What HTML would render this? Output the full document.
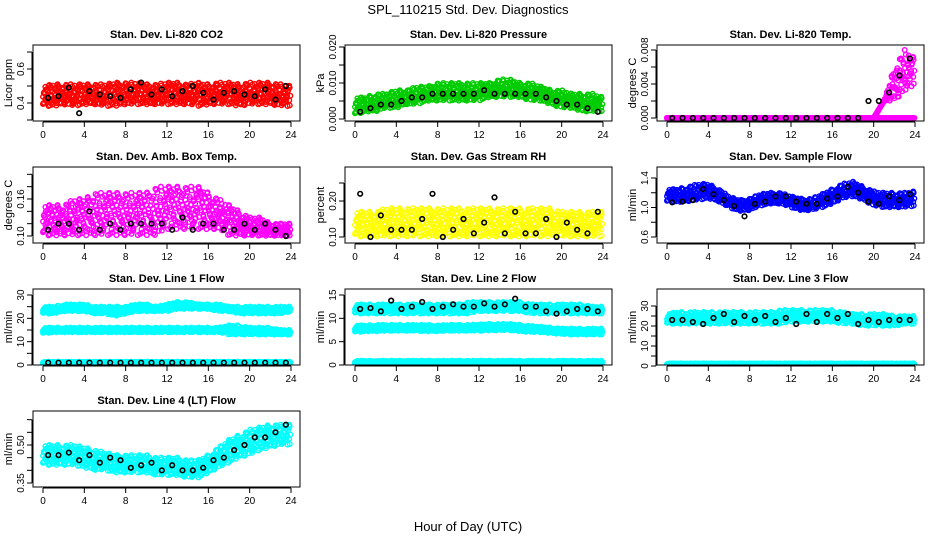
<!DOCTYPE html>
<html><head><meta charset="utf-8">
<style>
html,body{margin:0;padding:0;background:#fff;}
svg{display:block;font-family:"Liberation Sans",sans-serif;}
</style></head>
<body>
<svg id="chart" width="936" height="540" viewBox="0 0 936 540">
<text x="468" y="14" text-anchor="middle" font-size="13">SPL_110215  Std. Dev. Diagnostics</text>
<text x="468" y="531" text-anchor="middle" font-size="13">Hour of Day (UTC)</text>
</svg>
<script>
// ---- data ----
const hours = [0,1,2,3,4,5,6,7,8,9,10,11,12,13,14,15,16,17,18,19,20,21,22,23,24];
const blackHours = [0.5,1.5,2.5,3.5,4.5,5.5,6.5,7.5,8.5,9.5,10.5,11.5,12.5,13.5,14.5,15.5,16.5,17.5,18.5,19.5,20.5,21.5,22.5,23.5];
const titles = ["Stan. Dev. Li-820 CO2","Stan. Dev. Li-820 Pressure","Stan. Dev. Li-820 Temp.","Stan. Dev. Amb. Box Temp.","Stan. Dev. Gas Stream RH","Stan. Dev. Sample Flow","Stan. Dev. Line 1 Flow","Stan. Dev. Line 2 Flow","Stan. Dev. Line 3 Flow","Stan. Dev. Line 4 (LT) Flow"];
const yTitles = ["Licor ppm","kPa","degrees C","degrees C","percent","ml/min","ml/min","ml/min","ml/min","ml/min"];
const yTicks = [[0.3,0.4,0.5,0.6,0.7],[0,0.005,0.01,0.015,0.02],[0,0.002,0.004,0.006,0.008],[0.1,0.12,0.14,0.16,0.18,0.2],[0.1,0.15,0.2,0.25],[0.6,0.8,1.0,1.2,1.4],[0,5,10,15,20,25,30],[0,5,10,15],[0,5,10,15,20,25,30],[0.35,0.4,0.45,0.5,0.55,0.6]];
const yLabels = [["","0.4","","0.6",""],["0.000","","0.010","","0.020"],["0.000","","0.004","","0.008"],["0.10","","","0.16","",""],["0.10","","0.20",""],["0.6","","1.0","","1.4"],["0","","10","","20","","30"],["0","5","10","15"],["0","","10","","20","","30"],["0.35","","","0.50","",""]];
const xTicks = [0,4,8,12,16,20,24];
const colors = ["#ff0000","#00cc00","#ff00ff","#ff00ff","#ffff00","#0000ff","#00ffff","#00ffff","#00ffff","#00ffff"];
// colored clouds: per panel, list of bands [low per hour, high per hour]
const bandsCO2 = [[[.38,.38,.39,.38,.39,.39,.38,.38,.39,.39,.39,.39,.39,.39,.39,.38,.39,.39,.39,.38,.39,.39,.39,.38,.38],[.50,.51,.51,.51,.51,.51,.51,.52,.52,.52,.51,.51,.52,.52,.51,.52,.51,.52,.52,.51,.52,.52,.52,.51,.50]]];
const bandsPres = [[[.001,.002,.002,.003,.003,.004,.004,.005,.005,.005,.005,.005,.005,.006,.006,.006,.006,.005,.005,.004,.003,.003,.002,.002,.002],[.006,.006,.007,.007,.008,.008,.009,.009,.010,.010,.010,.010,.010,.010,.011,.011,.010,.010,.009,.008,.008,.007,.007,.007,.006]]];
const bandsTemp = [[[0,0,0,0,0,0,0,0,0,0,0,0,0,0,0,0,0,0,0,0,0,0,0,0,0],[0,0,0,0,0,0,0,0,0,0,0,0,0,0,0,0,0,0,0,0,0,0,0,0,0]],
  [[0,0,0,0,0,0,0,0,0,0,0,0,0,0,0,0,0,0,0,0,0,.002,.002,.003,.004],[0,0,0,0,0,0,0,0,0,0,0,0,0,0,0,0,0,0,0,0,0,.002,.006,.008,.007]]];
const bandsBox = [[[.10,.10,.10,.10,.10,.10,.10,.10,.10,.10,.10,.10,.11,.11,.11,.11,.11,.11,.10,.10,.10,.10,.10,.10,.10],[.15,.15,.15,.16,.16,.17,.17,.17,.17,.17,.17,.18,.18,.18,.18,.18,.17,.16,.15,.14,.13,.13,.12,.12,.12]]];
const bandsRH = [[[.10,.10,.10,.10,.10,.10,.10,.10,.10,.10,.10,.10,.10,.10,.10,.10,.10,.10,.10,.10,.10,.10,.10,.10,.10],[.17,.17,.17,.18,.18,.18,.18,.18,.18,.18,.18,.18,.18,.18,.18,.18,.18,.18,.18,.18,.17,.17,.17,.17,.17]]];
const bandsFlow = [[[1.07,1.07,1.08,1.10,1.12,1.08,1.00,0.95,0.96,1.02,1.05,1.05,1.00,0.96,0.96,1.00,1.05,1.12,1.15,1.10,1.02,1.00,1.00,1.00,1.02],[1.25,1.25,1.28,1.32,1.32,1.25,1.15,1.10,1.12,1.18,1.20,1.20,1.15,1.12,1.12,1.18,1.25,1.32,1.35,1.28,1.22,1.20,1.20,1.20,1.22]]];
const bandsL1 = [[[22,22,23,23,23,22,22,21,22,23,23,23,23,24,24,24,24,23,23,22,22,22,22,22,23],[25,25,26,26,26,25,25,25,25,26,26,25,26,27,27,26,26,26,25,25,25,25,25,25,25]],
  [[13.5,14,14,14,14,14,14,14,14,14,14,14,14,14,14,14,14,14,13,13,13,13,13,13,13],[16,16,16,16,16,16,16,16,16,16,16,16,16,16,16,16,16,16,17,17,16,16,16,15,15]],
  [[0.8,0.8,0.8,0.8,0.8,0.8,0.8,0.8,0.8,0.8,0.8,0.8,0.8,0.8,0.8,0.8,0.8,0.8,0.8,0.8,0.8,0.8,0.8,0.8,0.8],[1.4,1.4,1.4,1.4,1.4,1.4,1.4,1.4,1.4,1.4,1.4,1.4,1.4,1.4,1.4,1.4,1.4,1.4,1.4,1.4,1.4,1.4,1.4,1.4,1.4]]];
const bandsL2 = [[[11,11,11,11,11,11,11,11,11,11,11,11,11.5,11.5,11.5,11.5,11.5,11,11,11,11,11,11,11,11],[13,13,13,13,13,13,13,13,13,13,13,13.5,13.5,13.5,13.5,13.5,13.5,13,13,13,13,13,13,12.5,12.5]],
  [[7,7.2,7.2,7.3,7.3,7.3,7.3,7.2,7.2,7.3,7.3,7.3,7.3,7.4,7.4,7.4,7.2,7,7,6.8,6.6,6.5,6.5,6.5,6.5],[8.5,8.5,8.6,8.6,8.6,8.6,8.6,8.6,8.5,8.6,8.6,8.6,8.7,8.8,8.8,8.8,8.6,8.4,8.2,8,7.8,7.8,7.8,7.8,7.8]],
  [[0.3,0.3,0.3,0.3,0.3,0.3,0.3,0.3,0.3,0.3,0.3,0.3,0.3,0.3,0.3,0.3,0.3,0.3,0.3,0.3,0.3,0.3,0.3,0.3,0.3],[0.9,0.9,0.9,0.9,0.9,0.9,0.9,0.9,0.9,0.9,0.9,0.9,0.9,0.9,0.9,0.9,0.9,0.9,0.9,0.9,0.9,0.9,0.9,0.9,0.9]]];
const bandsL3 = [[[21,21,21,21,21,21,21,21,21,21,21,21,22,22,22,22,22,21,21,20,20,20,20,21,21],[26,27,27,27,27,27,27,27,27,27,27,28,28,28,28,28,28,27,26,26,26,26,25,25,25]],
  [[0.6,0.6,0.6,0.6,0.6,0.6,0.6,0.6,0.6,0.6,0.6,0.6,0.6,0.6,0.6,0.6,0.6,0.6,0.6,0.6,0.6,0.6,0.6,0.6,0.6],[1.3,1.3,1.3,1.3,1.3,1.3,1.3,1.3,1.3,1.3,1.3,1.3,1.3,1.3,1.3,1.3,1.3,1.3,1.3,1.3,1.3,1.3,1.3,1.3,1.3]]];
const bandsL4 = [[[0.42,0.42,0.42,0.42,0.41,0.40,0.40,0.39,0.39,0.39,0.39,0.38,0.38,0.38,0.37,0.37,0.39,0.41,0.43,0.45,0.46,0.48,0.49,0.50,0.50],[0.50,0.50,0.50,0.50,0.49,0.48,0.47,0.46,0.46,0.46,0.46,0.45,0.45,0.45,0.44,0.44,0.46,0.49,0.52,0.54,0.56,0.57,0.58,0.58,0.58]]];
const bands = [bandsCO2,bandsPres,bandsTemp,bandsBox,bandsRH,bandsFlow,bandsL1,bandsL2,bandsL3,bandsL4];
// black (second series) values at blackHours
const blackCO2 = [.43,.44,.49,.34,.47,.45,.44,.43,.48,.52,.45,.48,.44,.47,.50,.46,.42,.46,.47,.45,.44,.48,.42,.50];
const blackPres = [.002,.003,.004,.004,.005,.006,.006,.007,.007,.007,.007,.007,.008,.007,.007,.007,.007,.007,.006,.005,.004,.004,.003,.002];
const blackTemp = [0,0,0,0,0,0,0,0,0,0,0,0,0,0,0,0,0,0,0,.002,.002,.003,.005,.007];
const blackBox = [.11,.12,.12,.11,.14,.11,.12,.11,.12,.12,.12,.12,.11,.13,.11,.12,.12,.11,.11,.12,.11,.12,.11,.10];
const blackRH = [.22,.10,.16,.12,.12,.12,.15,.22,.10,.12,.15,.11,.14,.21,.11,.17,.11,.11,.15,.10,.14,.12,.11,.17];
const blackFlow = [1.07,1.08,1.10,1.25,1.18,1.10,1.02,0.88,1.05,1.08,1.15,1.15,1.08,1.05,1.05,1.12,1.15,1.28,1.20,1.08,1.05,1.15,1.10,1.18];
const blackL1 = [1,1,1,1,1,1,1,1,1,1,1,1,1,1,1,1,1,1,1,1,1,1,1,1];
const blackL2 = [12,12.2,11.5,13.8,12,12.5,13.5,12,12.5,13,12.5,12.5,13.2,12.5,13,14.2,12.5,12.5,11.5,11,11.5,12,12,11.5];
const blackL3 = [23,23,22,21,24,26,22,25,23,25,22,24,21,26,22,26,24,26,21,23,22,23,23,23];
const blackL4 = [0.46,0.46,0.47,0.44,0.46,0.43,0.45,0.44,0.41,0.42,0.43,0.40,0.42,0.40,0.40,0.41,0.44,0.45,0.48,0.50,0.53,0.53,0.55,0.58];
const blacks = [blackCO2,blackPres,blackTemp,blackBox,blackRH,blackFlow,blackL1,blackL2,blackL3,blackL4];
// ---- layout ----
const yMaps = [[0.4,103,0.6,69],[0,119,0.02,47],[0,118,0.008,50],[0.10,236,0.16,199],[0.10,237,0.20,201],[0.6,237,1.4,178],[0,365,30,295],[0,365,15,295],[0,366,30,306],[0.35,483,0.50,445]];
const NS = "http://www.w3.org/2000/svg";
const svg = document.getElementById("chart");
function mk(tag, attrs, parent){const e=document.createElementNS(NS,tag);for(const k in attrs)e.setAttribute(k,attrs[k]);parent.appendChild(e);return e;}
// fixed scatter layout sequences (placement within band, not data)
const fracs=[0.12,0.71,0.33,0.94,0.52,0.05,0.83,0.41,0.66,0.18,1.0,0.58,0.27,0.88,0.47,0.02,0.76,0.36,0.61,0.91,0.22,0.50,0.08,0.69,0.97,0.30,0.80,0.44,0.15];
const jit=[0.00,0.37,-0.21,0.12,-0.40,0.28,-0.08,0.45,-0.33,0.19,-0.14,0.05,0.31];
function interp(arr,x){x=Math.max(0,Math.min(24,x));const i=Math.min(23,Math.floor(x));const t=x-i;return arr[i]*(1-t)+arr[i+1]*t;}
for(let p=0;p<10;p++){
  const col=p%3,row=Math.floor(p/3);
  const L=[33,345,657][col],T=[45,167,289,411][row],W=267,H=76;
  const xs=h=>L+10+h*(248/24);
  const m=yMaps[p];
  const ys=v=>m[1]+(v-m[0])*(m[3]-m[1])/(m[2]-m[0]);
  const g=mk("g",{},svg);
  
  
  const t=mk("text",{x:L+W/2,y:T-7,"text-anchor":"middle","font-size":"11","font-weight":"bold"},g);
  t.textContent=titles[p];
  
  
  const yt=mk("text",{x:0,y:0,"text-anchor":"middle","font-size":"11",transform:`translate(${L-21},${T+H/2}) rotate(-90)`},g);
  yt.textContent=yTitles[p];
  
  
  const xa=mk("g",{},g);
  
  
  mk("line",{x1:xs(0),x2:xs(24),y1:T+H+1,y2:T+H+1,stroke:"#000"},xa);
  xTicks.forEach(v=>{mk("line",{x1:xs(v),x2:xs(v),y1:T+H+1,y2:T+H+6,stroke:"#000"},xa);
    const lt=mk("text",{x:xs(v),y:T+H+17,"text-anchor":"middle","font-size":"10"},xa);lt.textContent=v;});
  const ya=mk("g",{},g);
  
  
  const tv=yTicks[p].filter(v=>ys(v)>=T-1&&ys(v)<=T+H+1);
  if(tv.length) mk("line",{x1:L-1,x2:L-1,y1:ys(tv[0]),y2:ys(tv[tv.length-1]),stroke:"#000"},ya);
  yTicks[p].forEach((v,i)=>{const y=ys(v);if(y<T-1||y>T+H+1)return;
    mk("line",{x1:L-1,x2:L-6,y1:y,y2:y,stroke:"#000"},ya);
    const lab=yLabels[p][i];if(lab){const lt=mk("text",{x:0,y:0,"text-anchor":"middle","font-size":"10",transform:`translate(${L-9},${y}) rotate(-90)`},ya);lt.textContent=lab;}});
  const cid="c"+p;const cp=mk("clipPath",{id:cid},g);mk("rect",{x:L,y:T,width:W,height:H},cp);
  const pts=mk("g",{"clip-path":`url(#${cid})`,fill:"none","stroke-width":"1.4"},g);
  
  
  bands[p].forEach(b=>{
    let k=0;
    for(let x=0;x<=24;x+=1/10){
      for(let r=0;r<3;r++){
        const f=fracs[(k*3+r*11)%fracs.length];
        const xx=Math.max(0,Math.min(24,x+jit[(k+r*5)%jit.length]*0.1));
        k++;
        const lo=interp(b[0],xx),hi=interp(b[1],xx);
        const v=lo+(hi-lo)*f;
        mk("circle",{cx:xs(xx),cy:ys(v),r:2.3,stroke:colors[p]},pts);
      }
    }
  });
  const bg=mk("g",{"clip-path":`url(#${cid})`,fill:"none","stroke-width":"1.6",stroke:"#000"},g);
  
  
  blacks[p].forEach((v,i)=>{mk("circle",{cx:xs(blackHours[i]),cy:ys(v),r:2.3},bg);});
  const box=mk("rect",{x:L,y:T,width:W,height:H,fill:"none",stroke:"#000"},g);
  
  
}
</script>
</body></html>
